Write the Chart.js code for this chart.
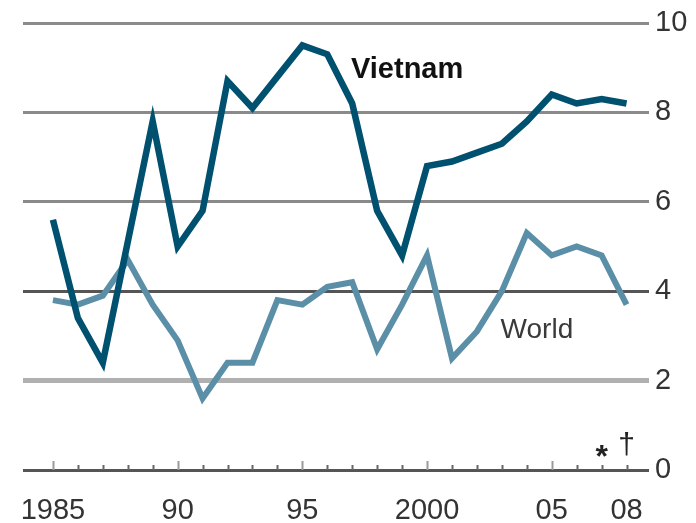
<!DOCTYPE html>
<html>
<head>
<meta charset="utf-8">
<script src="https://cdn.jsdelivr.net/npm/chart.js@4/dist/chart.umd.min.js"></script>
<style>
    html, body { margin: 0; padding: 0; background: #fff; }
    #wrap { width: 696px; height: 523px; position: relative; }
</style>
</head>
<body>
<div id="wrap"><canvas id="growth-chart"></canvas></div>
<script>
const years = [
    1985, 1986, 1987, 1988, 1989, 1990, 1991, 1992, 1993, 1994, 1995, 1996,
    1997, 1998, 1999, 2000, 2001, 2002, 2003, 2004, 2005, 2006, 2007, 2008,
];
const vietnam = [
    5.6, 3.4, 2.4, 5.1, 7.8, 5.0, 5.8, 8.7, 8.1, 8.8, 9.5, 9.3,
    8.2, 5.8, 4.8, 6.8, 6.9, 7.1, 7.3, 7.8, 8.4, 8.2, 8.3, 8.2,
];
const world = [
    3.8, 3.7, 3.9, 4.7, 3.7, 2.9, 1.6, 2.4, 2.4, 3.8, 3.7, 4.1,
    4.2, 2.7, 3.7, 4.8, 2.5, 3.1, 4.0, 5.3, 4.8, 5.0, 4.8, 3.7,
];
const xTickYears = [1985, 1990, 1995, 2000, 2005, 2008];
const xTickLabels = ["1985", "90", "95", "2000", "05", "08"];
const yTicks = [0, 2, 4, 6, 8, 10];
const noteYears = [2007, 2008];
const noteMarks = ["*", "\u2020"];

const FONT = "'Liberation Sans', Arial, sans-serif";

function toPoints(values) {
    return years.map((year, i) => ({ x: year, y: values[i] }));
}

// little upward ticks on the baseline, footnote marks and series names
const decorations = {
    id: "decorations",
    beforeDatasetsDraw(chart) {
        const { ctx, scales } = chart;
        const x = scales.x;
        const base = scales.y.getPixelForValue(0);

        ctx.save();
        ctx.lineWidth = 2;
        years.forEach((year) => {
            const major = xTickYears.includes(year) && year !== 2008;
            const px = Math.round(x.getPixelForValue(year)) + 0.5;
            ctx.strokeStyle = major ? "#9a9a9a" : "#666";
            ctx.beginPath();
            ctx.moveTo(px, base);
            ctx.lineTo(px, base - (major ? 9 : 5));
            ctx.stroke();
        });
        ctx.restore();
    },
    afterDatasetsDraw(chart) {
        const { ctx, scales } = chart;
        const x = scales.x;
        const y = scales.y;

        ctx.save();
        ctx.fillStyle = "#222";
        ctx.textAlign = "center";
        ctx.textBaseline = "middle";
        ctx.font = `bold 32px ${FONT}`;
        ctx.fillText(noteMarks[0], x.getPixelForValue(noteYears[0]), y.getPixelForValue(0) - 12);
        ctx.font = `30px ${FONT}`;
        ctx.fillText(noteMarks[1], x.getPixelForValue(noteYears[1]), y.getPixelForValue(0) - 24);

        ctx.textAlign = "left";
        ctx.font = `bold 29px ${FONT}`;
        ctx.fillStyle = "#111";
        ctx.fillText("Vietnam", x.getPixelForValue(1996.95), y.getPixelForValue(8.95));
        ctx.font = `28px ${FONT}`;
        ctx.fillStyle = "#3a3a3a";
        ctx.fillText("World", x.getPixelForValue(2002.95), y.getPixelForValue(3.13));
        ctx.restore();
    },
};

function gridColor(ctx) {
    const v = ctx.tick && ctx.tick.value;
    if (v === 2) return "#b0b0b0";
    if (v === 0 || v === 4) return "#555";
    return "#8a8a8a";
}

function gridWidth(ctx) {
    const v = ctx.tick && ctx.tick.value;
    return v === 2 ? 5 : 3;
}

new Chart(document.getElementById("growth-chart"), {
    type: "line",
    data: {
        datasets: [
            {
                label: "Vietnam",
                data: toPoints(vietnam),
                borderColor: "#00506f",
                borderWidth: 6.5,
                borderJoinStyle: "miter",
                pointRadius: 0,
                tension: 0,
            },
            {
                label: "World",
                data: toPoints(world),
                borderColor: "#5b8fa8",
                borderWidth: 6,
                borderJoinStyle: "miter",
                pointRadius: 0,
                tension: 0,
            },
        ],
    },
    options: {
        responsive: true,
        maintainAspectRatio: false,
        animation: false,
        layout: { padding: { left: 23, top: 23, right: 0, bottom: 0 } },
        plugins: {
            legend: { display: false },
            tooltip: { enabled: false },
        },
        scales: {
            x: {
                type: "linear",
                min: 1983.8,
                max: 2008.9,
                grid: { display: false },
                border: { display: false },
                afterBuildTicks(scale) {
                    scale.ticks = xTickYears.map((v) => ({ value: v }));
                },
                afterFit(scale) {
                    scale.height = 53;
                },
                ticks: {
                    autoSkip: false,
                    maxRotation: 0,
                    padding: 18,
                    color: "#333",
                    font: { family: FONT, size: 29, lineHeight: 1 },
                    callback(value) {
                        const i = xTickYears.indexOf(value);
                        return i >= 0 ? xTickLabels[i] : "";
                    },
                },
            },
            y: {
                position: "right",
                min: 0,
                max: 10,
                afterBuildTicks(scale) {
                    scale.ticks = yTicks.map((v) => ({ value: v }));
                },
                afterFit(scale) {
                    scale.width = 47;
                },
                grid: {
                    drawTicks: false,
                    color: gridColor,
                    lineWidth: gridWidth,
                },
                border: { display: false },
                ticks: {
                    padding: 6,
                    color: "#333",
                    font: { family: FONT, size: 29, lineHeight: 1 },
                },
            },
        },
    },
    plugins: [decorations],
});
</script>
</body>
</html>
